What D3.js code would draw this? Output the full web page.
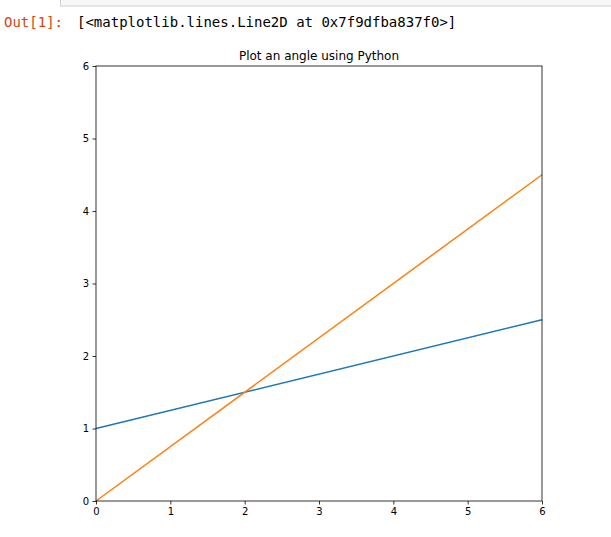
<!DOCTYPE html>
<html><head><meta charset="utf-8">
<script src="https://cdn.jsdelivr.net/npm/d3@7"></script>
<style>body{margin:0;background:#fff;}</style>
</head><body>
<svg id="c" width="611" height="537"></svg>
<script>
const xTicks = [0,1,2,3,4,5,6];
const yTicks = [0,1,2,3,4,5,6];
const lineA = [{x:0,y:1},{x:6,y:2.5}];
const lineB = [{x:0,y:0},{x:6,y:4.5}];
const title = "Plot an angle using Python";
const outLabel = "Out[1]:";
const outText = "[<matplotlib.lines.Line2D at 0x7f9dfba837f0>]";

const svg = d3.select("#c");
// top cell frame
svg.append("rect").attr("x",60.5).attr("y",-10).attr("width",600).attr("height",16)
  .attr("fill","#f7f7f7").attr("stroke","#cfcfcf");
svg.append("text").attr("x",4).attr("y",27).attr("fill","#d84315")
  .attr("font-family","DejaVu Sans Mono").attr("font-size",14).text(outLabel);
svg.append("text").attr("x",77).attr("y",27).attr("fill","#000")
  .attr("font-family","DejaVu Sans Mono").attr("font-size",14).text(outText);

const L=96, R=542, T=66, B=501;
const x = d3.scaleLinear().domain([0,6]).range([L,R]);
const y = d3.scaleLinear().domain([0,6]).range([B,T]);

const line = d3.line().x(d=>x(d.x)).y(d=>y(d.y));
svg.append("path").datum(lineA).attr("d",line).attr("fill","none").attr("stroke","#1f77b4").attr("stroke-width",1.5);
svg.append("path").datum(lineB).attr("d",line).attr("fill","none").attr("stroke","#ff7f0e").attr("stroke-width",1.5);

const xa = svg.append("g").attr("transform",`translate(0,${B})`)
  .call(d3.axisBottom(x).tickValues(xTicks).tickFormat(d3.format("d")).tickSize(3.5).tickPadding(3.5));
const ya = svg.append("g").attr("transform",`translate(${L},0)`)
  .call(d3.axisLeft(y).tickValues(yTicks).tickFormat(d3.format("d")).tickSize(3.5).tickPadding(3.5));
[xa,ya].forEach(a=>{
  a.select(".domain").remove();
  a.selectAll("text").attr("font-family","DejaVu Sans").attr("font-size",10).attr("fill","#000");
  a.selectAll("line").attr("stroke","#000").attr("stroke-width",0.8);
});
svg.append("rect").attr("x",L).attr("y",T).attr("width",R-L).attr("height",B-T)
  .attr("fill","none").attr("stroke","#000").attr("stroke-width",0.8);

svg.append("text").attr("x",(L+R)/2).attr("y",T-6).attr("text-anchor","middle")
  .attr("font-family","DejaVu Sans").attr("font-size",12).text(title);
</script>
</body></html>
